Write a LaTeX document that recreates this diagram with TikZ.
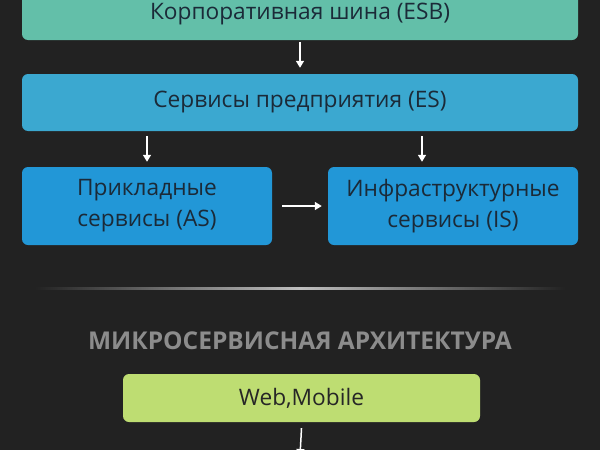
\documentclass[tikz,border=0pt]{standalone}
\usepackage{fontspec}
\setmainfont{Open Sans}
\usetikzlibrary{arrows.meta}
\definecolor{bg}{HTML}{222222}
\definecolor{esb}{HTML}{63BFA9}
\definecolor{es}{HTML}{3BA8D0}
\definecolor{as}{HTML}{2297D7}
\definecolor{web}{HTML}{BEDD72}
\definecolor{txt}{HTML}{1B2A38}
\definecolor{ttl}{HTML}{8C8C8C}
\begin{document}
\begin{tikzpicture}[x=1pt,y=-1pt,
  box/.style={rounded corners=6pt,inner sep=0pt,text=txt,font=\fontsize{22.7}{31}\selectfont,align=center},
  arr/.style={white,line width=1.5pt,-{Triangle[width=8pt,length=7pt]}}]
\fill[bg] (0,0) rectangle (600,450);
\useasboundingbox (0,0) rectangle (600,450);
\node[box,fill=esb,minimum width=556pt,minimum height=52pt] (esb) at (300,14) {Корпоративная шина (ESB)};
\node[box,fill=es,minimum width=556pt,minimum height=57pt] (es) at (300,102.5) {Сервисы предприятия (ES)};
\node[box,fill=as,minimum width=250pt,minimum height=78pt] (asv) at (147,206) {Прикладные\\сервисы (AS)};
\node[box,fill=as,minimum width=250pt,minimum height=78pt] (isv) at (453,206) {Инфраструктурные\\сервисы (IS)};
\draw[arr] ([yshift=-2pt]esb.south) -- ([yshift=6pt]es.north);
\draw[arr] ([yshift=-5pt]es.south -| asv.north) -- ([yshift=5pt]asv.north);
\coordinate (isx) at (422,131);
\draw[arr] ([yshift=-5pt]isx) -- ([yshift=5pt]isx |- isv.north);
\draw[arr] ([xshift=10pt]asv.east) -- ([xshift=-6pt]isv.west);
\shade[left color=bg,right color=bg,middle color=white!75!black] (35,287) rectangle (565,289.5);
\node[font=\bfseries\fontsize{24.5}{28}\selectfont,text=ttl] (title) at (300,341) {МИКРОСЕРВИСНАЯ АРХИТЕКТУРА};
\node[box,fill=web,minimum width=357pt,minimum height=48pt,text=black!85] (web) at (301.5,398) {Web,Mobile};
\coordinate (bot) at (300,456);
\draw[arr] ([yshift=-6pt]web.south) -- (bot);
\end{tikzpicture}
\end{document}
